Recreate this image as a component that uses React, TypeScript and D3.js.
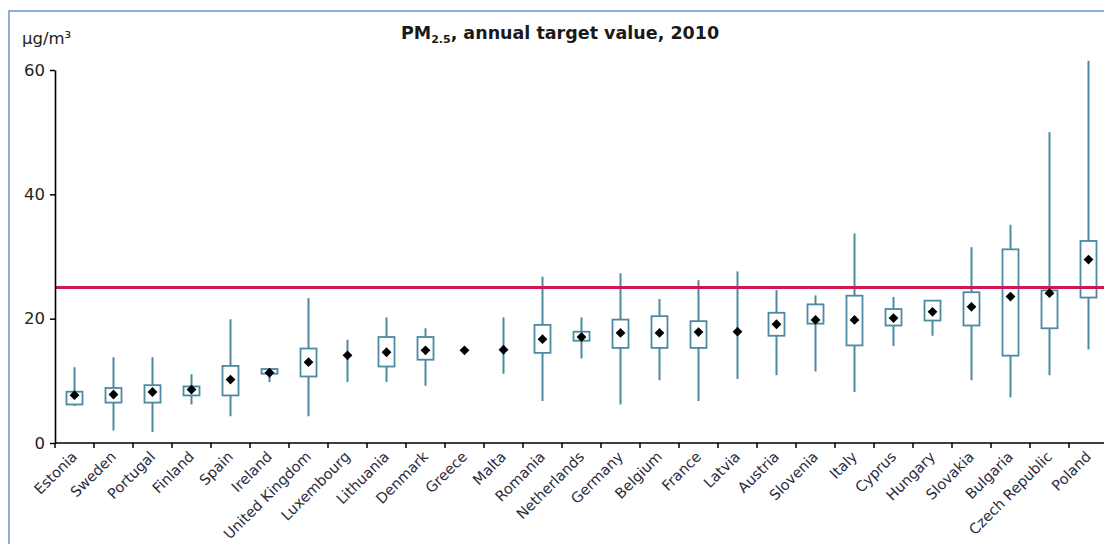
import * as d3 from "d3";
import { useEffect, useRef } from "react";

// PM2.5 distribution per country (µg/m³)
const countries = [
  "Estonia", "Sweden", "Portugal", "Finland", "Spain", "Ireland", "United Kingdom",
  "Luxembourg", "Lithuania", "Denmark", "Greece", "Malta", "Romania", "Netherlands",
  "Germany", "Belgium", "France", "Latvia", "Austria", "Slovenia", "Italy", "Cyprus",
  "Hungary", "Slovakia", "Bulgaria", "Czech Republic", "Poland",
];
const minVals = [5.95, 2.0, 1.75, 6.2, 4.3, 9.8, 4.3, 9.8, 9.8, 9.2, null, 11.15, 6.75, 13.6,
  6.2, 10.1, 6.75, 10.3, 10.9, 11.5, 8.2, 15.6, 17.25, 10.1, 7.35, 10.9, 15.05];
const q1Vals = [6.2, 6.5, 6.5, 7.65, 7.65, 11.15, 10.7, null, 12.3, 13.4, null, null, 14.5, 16.45,
  15.3, 15.3, 15.3, null, 17.25, 19.2, 15.7, 18.9, 19.7, 18.9, 14.05, 18.45, 23.4];
const q3Vals = [8.25, 8.85, 9.3, 9.1, 12.4, 11.9, 15.2, null, 17.05, 17.05, null, null, 19.0, 17.9,
  19.85, 20.4, 19.6, null, 20.95, 22.3, 23.7, 21.55, 22.9, 24.25, 31.15, 24.55, 32.5];
const maxVals = [12.2, 13.8, 13.8, 11.05, 19.9, 12.0, 23.3, 16.6, 20.2, 18.45, null, 20.2, 26.75, 20.2,
  27.3, 23.15, 26.2, 27.6, 24.6, 23.75, 33.7, 23.5, 22.9, 31.5, 35.1, 50.0, 61.5];
const meanVals = [7.7, 7.8, 8.2, 8.6, 10.2, 11.3, 13.0, 14.1, 14.6, 14.9, 14.9, 15.0, 16.7, 17.05,
  17.7, 17.7, 17.85, 17.9, 19.1, 19.8, 19.8, 20.1, 21.1, 21.9, 23.55, 24.1, 29.5];
const yTicks = [0, 20, 40, 60];
const targetValue = 25;

const W = 1104;
const H = 544;
const FONT = "'DejaVu Sans', Verdana, sans-serif";

export default function App() {
  const svgRef = useRef<SVGSVGElement>(null);

  useEffect(() => {
    const svg = d3.select(svgRef.current);
    svg.selectAll("*").remove();

    const x = d3.scaleBand().domain(countries).range([55, 1108]);
    const y = d3.scaleLinear().domain([0, 60]).range([443, 70]);
    const boxColor = "#4b8aa0";

    // outer frame
    svg.append("rect")
      .attr("x", 9).attr("y", 11)
      .attr("width", W + 20).attr("height", H + 20)
      .attr("fill", "none").attr("stroke", "#6b91cf").attr("stroke-width", 1.5);

    // title
    const title = svg.append("text")
      .attr("x", 560).attr("y", 39)
      .attr("text-anchor", "middle")
      .style("font-family", FONT).style("font-weight", "bold").style("font-size", "17.5px")
      .attr("fill", "#1a1a1a");
    title.append("tspan").text("PM");
    title.append("tspan").attr("dy", 4).style("font-size", "11px").text("2.5");
    title.append("tspan").attr("dy", -4).text(", annual target value, 2010");

    svg.append("text")
      .attr("x", 22).attr("y", 44)
      .style("font-family", FONT).style("font-size", "16.5px")
      .attr("fill", "#222")
      .text("µg/m³");

    const data = countries.map((c, i) => ({
      c, min: minVals[i], q1: q1Vals[i], q3: q3Vals[i], max: maxVals[i], mean: meanVals[i],
    }));

    const g = svg.append("g");
    const cx = (d) => (x(d.c) as number) + x.bandwidth() / 2;

    // whiskers
    g.selectAll(".whisker")
      .data(data.filter((d) => d.min != null && d.max != null))
      .join("line")
      .attr("x1", cx).attr("x2", cx)
      .attr("y1", (d) => y(d.min)).attr("y2", (d) => y(d.max))
      .attr("stroke", boxColor).attr("stroke-width", 2);

    // boxes
    const boxW = 16;
    g.selectAll(".box")
      .data(data.filter((d) => d.q1 != null && d.q3 != null))
      .join("rect")
      .attr("x", (d) => cx(d) - boxW / 2)
      .attr("width", boxW)
      .attr("y", (d) => y(d.q3))
      .attr("height", (d) => y(d.q1) - y(d.q3))
      .attr("fill", "white").attr("stroke", boxColor).attr("stroke-width", 1.8);

    // target line
    svg.append("line")
      .attr("x1", 55).attr("x2", W)
      .attr("y1", y(targetValue)).attr("y2", y(targetValue))
      .attr("stroke", "#d0174f").attr("stroke-width", 3);

    // means
    const diamond = d3.symbol().type(d3.symbolSquare).size(48);
    svg.append("g").selectAll("path")
      .data(data)
      .join("path")
      .attr("d", diamond)
      .attr("transform", (d) => `translate(${cx(d)},${y(d.mean)}) rotate(45)`)
      .attr("fill", "#000");

    // y axis
    const yAxis = svg.append("g")
      .attr("transform", "translate(55,0)")
      .call(d3.axisLeft(y).tickValues(yTicks).tickSize(5).tickPadding(5).tickSizeOuter(0));
    yAxis.select(".domain").attr("stroke", "#000").attr("stroke-width", 1.6);
    yAxis.selectAll(".tick line").attr("stroke", "#000").attr("stroke-width", 1.5);
    yAxis.selectAll(".tick text")
      .style("font-family", FONT).style("font-size", "16.5px").attr("fill", "#222");

    // x axis
    const xAxisG = svg.append("g").attr("transform", "translate(0,443)");
    xAxisG.append("line")
      .attr("x1", 55).attr("x2", W)
      .attr("stroke", "#000").attr("stroke-width", 1.6);
    xAxisG.selectAll(".xtick")
      .data(countries)
      .join("line")
      .attr("x1", (c) => x(c) as number).attr("x2", (c) => x(c) as number)
      .attr("y1", 0).attr("y2", 5)
      .attr("stroke", "#000").attr("stroke-width", 1.5);
    xAxisG.selectAll(".xlabel")
      .data(countries)
      .join("text")
      .attr("transform", (c) => `translate(${(x(c) as number) + x.bandwidth() / 2},11) rotate(-45)`)
      .attr("text-anchor", "end")
      .attr("dy", "0.35em")
      .style("font-family", FONT).style("font-size", "14.5px")
      .attr("fill", "#2a2a40")
      .text((c) => c);
  }, []);

  return (
    <svg
      ref={svgRef}
      width={W}
      height={H}
      style={{ position: "absolute", left: 0, top: 0, background: "white" }}
    />
  );
}
